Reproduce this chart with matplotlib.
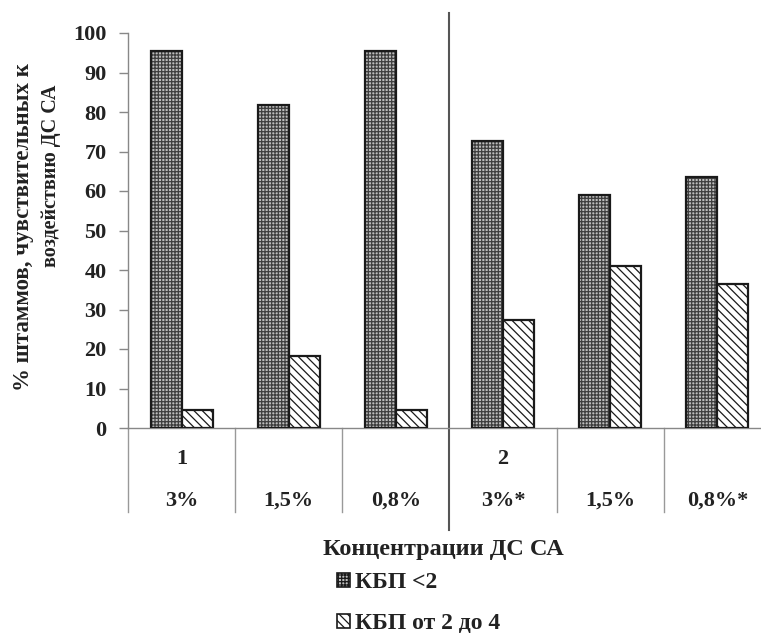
import matplotlib
matplotlib.use("Agg")
import matplotlib.pyplot as plt
from matplotlib.patches import Patch
import numpy as np

# ---- data ----
group_labels = ["1", "", "", "2", "", ""]
conc_labels = ["3%", "1,5%", "0,8%", "3%*", "1,5%", "0,8%*"]
kbp_lt2 = [95.5, 81.8, 95.5, 72.7, 59.1, 63.6]
kbp_2to4 = [4.5, 18.2, 4.5, 27.3, 40.9, 36.4]
series_names = ["КБП <2", "КБП от 2 до 4"]
y_ticks = [0, 10, 20, 30, 40, 50, 60, 70, 80, 90, 100]
ylabel_line1 = "% штаммов, чувствительных к"
ylabel_line2 = "воздействию ДС СА"
xlabel = "Концентрации ДС СА"

plt.rcParams['font.family'] = ['Liberation Serif', 'DejaVu Serif']
plt.rcParams['font.weight'] = 'bold'
plt.rcParams['hatch.linewidth'] = 0.9

TXT = '#222222'
W, H = 761, 633
fig = plt.figure(figsize=(W / 100, H / 100), dpi=100)
ax_left, ax_right, ax_bottom, ax_top = 128, 771, 428, 33
ax = fig.add_axes([ax_left / W, (H - ax_bottom) / H,
                   (ax_right - ax_left) / W, (ax_bottom - ax_top) / H])

x = np.arange(len(conc_labels))
bw = 0.29
main_face, main_hatch = '#bdbdbd', '#3e3e3e'
# main series: grey dotted texture
ax.bar(x - bw / 2, kbp_lt2, bw, facecolor=main_face, edgecolor=main_hatch,
       hatch='+++++', linewidth=0, zorder=2)
ax.bar(x - bw / 2, kbp_lt2, bw, facecolor='none', edgecolor='#1a1a1a',
       linewidth=1.6, zorder=3)
# second series: diagonal hatching
ax.bar(x + bw / 2, kbp_2to4, bw, facecolor='white', edgecolor='#1a1a1a',
       hatch='\\\\\\\\', linewidth=1.6, zorder=3)

ax.set_xlim(-0.5, len(conc_labels) - 0.5)
ax.set_ylim(0, 100)
ax.set_yticks(y_ticks)
ax.set_yticklabels([str(t) for t in y_ticks], fontsize=16, fontweight='bold',
                   color=TXT)
ax.tick_params(axis='y', length=6.5, width=1, color='#888888', pad=9)
ax.set_xticks([])
for s in ['top', 'right']:
    ax.spines[s].set_visible(False)
ax.spines['left'].set_color('#888888')
ax.spines['bottom'].set_color('#888888')
ax.spines['left'].set_linewidth(1.0)
ax.spines['bottom'].set_linewidth(1.0)

tr = ax.get_xaxis_transform()
ph = ax_bottom - ax_top
def ay(py):
    return (ax_bottom - py) / ph

# table separators
for i, b in enumerate(np.arange(-0.5, len(conc_labels), 1.0)):
    if i == 3:
        ax.plot([b, b], [ay(530), ay(13)], transform=tr, clip_on=False,
                color='#555555', lw=1.5, zorder=1)
    else:
        ax.plot([b, b], [ay(512), 0], transform=tr, clip_on=False,
                color='#999999', lw=1.0, zorder=1)

for xi, g, c in zip(x, group_labels, conc_labels):
    if g:
        ax.text(xi, ay(459), g, transform=tr, ha='center', va='center',
                fontsize=16, fontweight='bold', color=TXT)
    ax.text(xi, ay(501), c, transform=tr, ha='center', va='center',
            fontsize=16, fontweight='bold', color=TXT)

fig.text(443 / W, 1 - 550 / H, xlabel, ha='center', va='center',
         fontsize=17.5, fontweight='bold', color=TXT)
fig.text(24 / W, 1 - 227 / H, ylabel_line1, rotation=90, ha='center',
         va='center', fontsize=16.5, fontweight='bold', color=TXT)
fig.text(51 / W, 1 - 176 / H, ylabel_line2, rotation=90, ha='center',
         va='center', fontsize=14.5, fontweight='bold', color=TXT)

handles = [Patch(facecolor=main_face, edgecolor='#1a1a1a', hatch='+++++', lw=1.2),
           Patch(facecolor='white', edgecolor='#1a1a1a', hatch='\\\\\\\\', lw=1.2)]
leg = fig.legend(handles, series_names, loc='upper left',
                 bbox_to_anchor=(337 / W, 1 - 572 / H), frameon=False,
                 handlelength=0.55, handleheight=0.55, handletextpad=0.2,
                 labelspacing=0.85, borderpad=0, borderaxespad=0,
                 prop={'size': 17, 'weight': 'bold'})
for t in leg.get_texts():
    t.set_color(TXT)

fig.savefig('out.png', dpi=100, facecolor='white')
